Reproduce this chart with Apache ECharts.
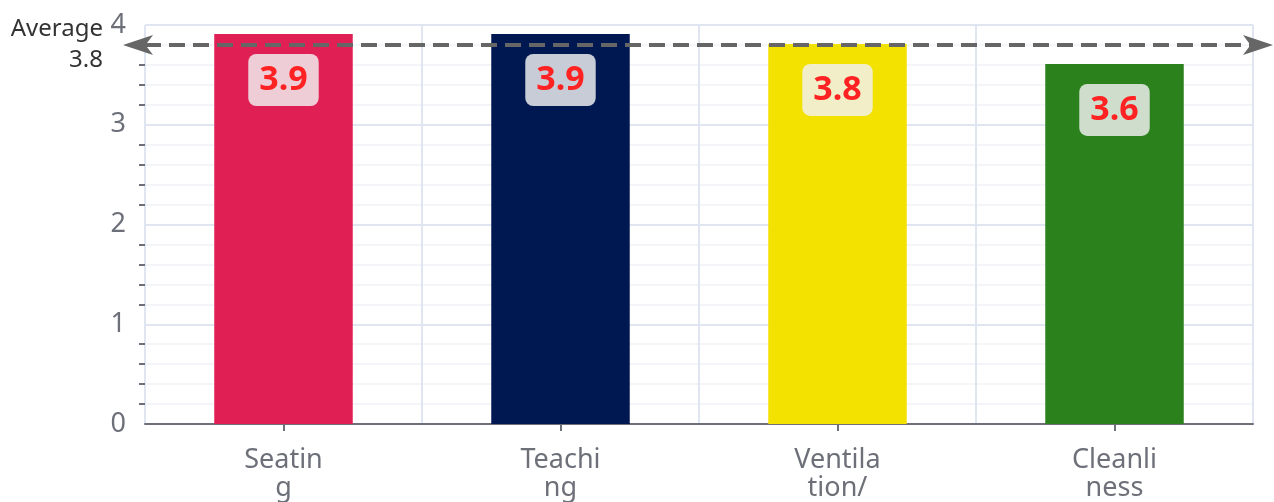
<!DOCTYPE html>
<html>
<head>
<meta charset="utf-8">
<script src="https://cdn.jsdelivr.net/npm/echarts@6/dist/echarts.min.js"></script>
<style>html,body{margin:0;padding:0;background:#fff;}#c{width:1274px;height:502px;}</style>
</head>
<body>
<div id="c"></div>
<script>
var categories = ['Seating', 'Teaching', 'Ventilation/', 'Cleanliness'];
var tickLabels = ['Seatin\ng', 'Teachi\nng', 'Ventila\ntion/', 'Cleanli\nness'];
var values = [3.91, 3.91, 3.81, 3.61];
var barColors = ['#e01f54', '#001852', '#f3e100', '#2b821d'];
var yTicks = [0, 1, 2, 3, 4];

var FONT = '"Noto Sans", sans-serif';
var chart = echarts.init(document.getElementById('c'));
chart.setOption({
  animation: false,
  textStyle: { fontFamily: FONT },
  grid: { left: 145, right: 21, top: 25, bottom: 77, containLabel: false },
  xAxis: {
    type: 'category',
    data: categories,
    axisLine: { show: true, lineStyle: { color: '#6e7079', width: 2 } },
    axisTick: { show: true, alignWithLabel: true, length: 7, lineStyle: { color: '#6e7079', width: 2 } },
    axisLabel: {
      color: '#6e7079', fontSize: 27, lineHeight: 28, margin: 22, fontFamily: FONT,
      formatter: function (v, i) { return tickLabels[i]; }
    },
    splitLine: { show: true, lineStyle: { color: '#e0e6f1', width: 2 } }
  },
  yAxis: {
    type: 'value',
    min: yTicks[0], max: yTicks[yTicks.length - 1], interval: 1,
    axisLine: { show: false },
    axisTick: { show: false },
    minorTick: { show: true, splitNumber: 5, length: 6, lineStyle: { color: '#6e7079', width: 2 } },
    axisLabel: { color: '#6e7079', fontSize: 27, margin: 19, fontFamily: FONT },
    splitLine: { show: true, lineStyle: { color: '#e0e6f1', width: 2 } },
    minorSplitLine: { show: true, lineStyle: { color: '#f3f5f9', width: 2 } }
  },
  series: [{
    type: 'bar',
    data: values.map(function (v, i) { return { value: v, itemStyle: { color: barColors[i] } }; }),
    barWidth: '50%',
    label: {
      show: true,
      position: 'insideTop',
      distance: 20,
      formatter: function (p) { return p.value.toFixed(1); },
      color: '#ff2222',
      fontSize: 34,
      fontWeight: 'bold',
      fontFamily: FONT,
      lineHeight: 34,
      backgroundColor: 'rgba(240,240,240,0.83)',
      borderRadius: 8,
      padding: [9, 11]
    },
    markLine: {
      silent: true,
      symbol: ['arrow', 'arrow'],
      symbolSize: [15, 30],
      symbolOffset: [[0, -22], [0, -20]],
      precision: 1,
      lineStyle: { color: '#666666', type: 'dashed', width: 4 },
      label: {
        show: true,
        position: 'start',
        distance: 42,
        color: '#333333',
        fontSize: 24,
        lineHeight: 31,
        align: 'right',
        fontFamily: FONT,
        formatter: function (p) { return 'Average\n' + Number(p.value).toFixed(1); }
      },
      data: [{ type: 'average', name: 'Average' }]
    }
  }]
});
</script>
</body>
</html>
